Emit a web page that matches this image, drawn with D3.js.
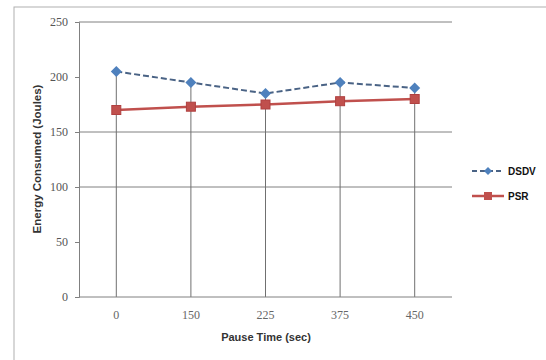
<!DOCTYPE html>
<html><head><meta charset="utf-8">
<script src="https://cdn.jsdelivr.net/npm/d3@7"></script>
<style>body{margin:0;background:#fff}svg{display:block}</style>
</head><body>
<script>
const categories = ["0", "150", "225", "375", "450"];
const dsdv = [205, 195, 185, 195, 190];
const psr = [170, 173, 175, 178, 180];
const yTicks = [0, 50, 100, 150, 200, 250];
const gridValues = [100, 150, 250];
const seriesNames = ["DSDV", "PSR"];

const W = 546, H = 360;
const svg = d3.select("body").append("svg").attr("width", W).attr("height", H);
svg.append("rect").attr("width", W).attr("height", H).attr("fill", "#fff");
// outer chart border
svg.append("rect").attr("x", 14).attr("y", 7).attr("width", 540).attr("height", 360)
  .attr("fill", "none").attr("stroke", "#b0b0b0").attr("stroke-width", 1);

const m = {l: 79, r: 452, t: 22, b: 297};
const x = d3.scaleBand().domain(categories).range([m.l, m.r]);
const y = d3.scaleLinear().domain([0, 250]).range([m.b, m.t]);
const cx = c => x(c) + x.bandwidth() / 2;

// gridlines
const g = svg.append("g");
g.selectAll("line.grid").data(gridValues).join("line")
  .attr("x1", m.l).attr("x2", m.r).attr("y1", d => y(d)).attr("y2", d => y(d))
  .attr("stroke", "#808080").attr("stroke-width", 1);

// drop lines
g.selectAll("line.drop").data(categories).join("line")
  .attr("x1", d => cx(d)).attr("x2", d => cx(d))
  .attr("y1", (d, i) => y(Math.max(dsdv[i], psr[i]))).attr("y2", m.b)
  .attr("stroke", "#707070").attr("stroke-width", 1);

// axes
const yAxis = d3.axisLeft(y).tickValues(yTicks).tickSize(4).tickPadding(7);
const ya = svg.append("g").attr("transform", `translate(${m.l},0)`).call(yAxis);
ya.select(".domain").attr("stroke", "#808080");
ya.selectAll(".tick line").attr("stroke", "#808080");
ya.selectAll("text").attr("font-family", "Liberation Serif, serif").attr("font-size", 12).attr("fill", "#555");

const xAxis = d3.axisBottom(x).tickSize(0).tickPadding(13);
const xa = svg.append("g").attr("transform", `translate(0,${m.b})`).call(xAxis);
xa.select(".domain").attr("stroke", "#808080").attr("d", `M${m.l},0H${m.r}`);
xa.selectAll("text").attr("font-family", "Liberation Serif, serif").attr("font-size", 12).attr("fill", "#666");

// titles
svg.append("text").attr("transform", `translate(41,${159}) rotate(-90)`)
  .attr("text-anchor", "middle").attr("font-family", "Liberation Sans, Arial, sans-serif")
  .attr("font-size", 11.5).attr("font-weight", "bold").attr("fill", "#333")
  .text("Energy Consumed (Joules)");
svg.append("text").attr("x", 266).attr("y", 341).attr("text-anchor", "middle")
  .attr("font-family", "Liberation Sans, Arial, sans-serif")
  .attr("font-size", 11).attr("font-weight", "bold").attr("fill", "#333")
  .text("Pause Time (sec)");

// series
const line = d3.line().x((d, i) => cx(categories[i])).y(d => y(d));
svg.append("path").datum(dsdv).attr("d", line).attr("fill", "none")
  .attr("stroke", "#4a6385").attr("stroke-width", 2).attr("stroke-dasharray", "6,3");
svg.append("path").datum(psr).attr("d", line).attr("fill", "none")
  .attr("stroke", "#c0504d").attr("stroke-width", 2.5);

const diamondType = {draw(ctx, size) { const r = Math.sqrt(size) / 2;
  ctx.moveTo(0, -r); ctx.lineTo(r, 0); ctx.lineTo(0, r); ctx.lineTo(-r, 0); ctx.closePath(); }};
const diamond = d3.symbol().type(diamondType).size(121);
svg.selectAll("path.dm").data(dsdv).join("path")
  .attr("transform", (d, i) => `translate(${cx(categories[i])},${y(d)})`)
  .attr("d", diamond).attr("fill", "#4f81bd");
svg.selectAll("rect.sq").data(psr).join("rect")
  .attr("x", (d, i) => cx(categories[i]) - 4.5).attr("y", d => y(d) - 4.5)
  .attr("width", 9).attr("height", 9).attr("fill", "#c0504d").attr("stroke", "#b04040");

// legend
const leg = [{name: seriesNames[0], yy: 171, color: "#4a6385", dash: "5,3", mark: "d"},
             {name: seriesNames[1], yy: 196, color: "#c0504d", dash: null, mark: "s"}];
leg.forEach(l => {
  svg.append("line").attr("x1", 472).attr("x2", 504).attr("y1", l.yy).attr("y2", l.yy)
    .attr("stroke", l.color).attr("stroke-width", l.mark === "s" ? 2.5 : 2)
    .attr("stroke-dasharray", l.dash);
  if (l.mark === "d") {
    svg.append("path").attr("transform", `translate(488,${l.yy})`)
      .attr("d", d3.symbol().type(diamondType).size(64)).attr("fill", "#4f81bd");
  } else {
    svg.append("rect").attr("x", 484).attr("y", l.yy - 4).attr("width", 8).attr("height", 8).attr("fill", "#c0504d");
  }
  svg.append("text").attr("x", 508).attr("y", l.yy + 4)
    .attr("font-family", "Liberation Sans, Arial, sans-serif").attr("font-size", 10)
    .attr("font-weight", "bold").attr("fill", "#111").text(l.name);
});
</script>
</body></html>
